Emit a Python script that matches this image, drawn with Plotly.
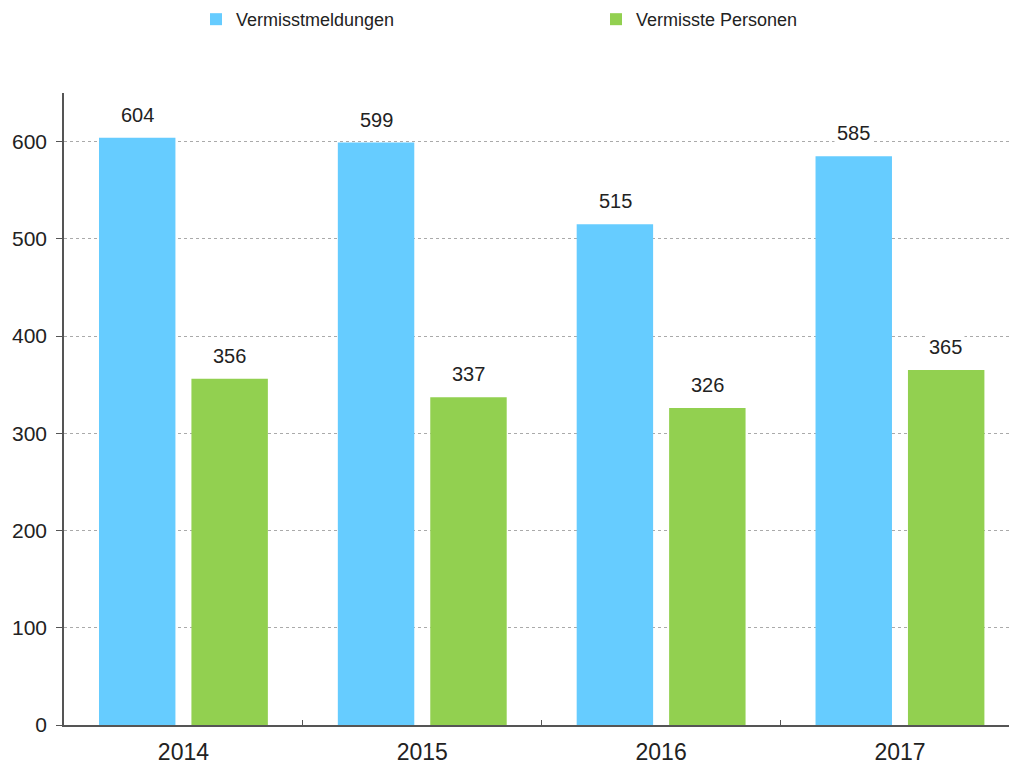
import plotly.graph_objects as go

years = ["2014", "2015", "2016", "2017"]
meldungen = [604, 599, 515, 585]
personen = [356, 337, 326, 365]
names = ["Vermisstmeldungen", "Vermisste Personen"]
colors = ["#66CCFF", "#92D050"]

FONT = "Liberation Sans, Arial, sans-serif"

fig = go.Figure()
for name, vals, col in zip(names, [meldungen, personen], colors):
    fig.add_trace(go.Bar(x=years, y=vals, name=name, marker_color=col,
                         marker_line_width=0))

slot_shift = 46
annotations = []
for shift, vals in zip([-slot_shift, slot_shift], [meldungen, personen]):
    for i, v in enumerate(vals):
        annotations.append(dict(x=i, y=v, xref="x", yref="y", text=str(v),
                                showarrow=False, xshift=shift, yanchor="bottom",
                                yshift=9, bgcolor="white", borderpad=2,
                                font=dict(family=FONT, size=20, color="#222")))

fig.update_layout(
    width=1017, height=767,
    margin=dict(l=56, r=8, t=85, b=50, autoexpand=False),
    paper_bgcolor="white", plot_bgcolor="white",
    barmode="group", bargap=0.226, bargroupgap=0.173,
    font=dict(family=FONT, color="#222"),
    legend=dict(orientation="h", x=0.1385, y=1.1456, xanchor="left", yanchor="top",
                yref="paper", entrywidth=355, entrywidthmode="pixels",
                font=dict(size=18, color="#222"), itemwidth=30),
    annotations=annotations,
    xaxis=dict(type="category", range=[-0.5, 3.49], showline=True, linecolor="#555", linewidth=1.5,
               ticks="inside", tickson="boundaries", ticklen=5, tickcolor="#555",
               ticklabelstandoff=6, automargin=False,
               tickfont=dict(size=23, color="#222"), showgrid=False),
    yaxis=dict(range=[0, 650], showline=True, linecolor="#555", linewidth=1.5,
               ticks="outside", ticklen=6, tickcolor="#555", tickvals=[0, 100, 200, 300, 400, 500, 600],
               ticklabelstandoff=5, automargin=False,
               tickfont=dict(size=21, color="#222"), showgrid=True, gridcolor="#AAAAAA",
               griddash="dot", gridwidth=1, zeroline=False),
)
fig.write_html("out.html")
